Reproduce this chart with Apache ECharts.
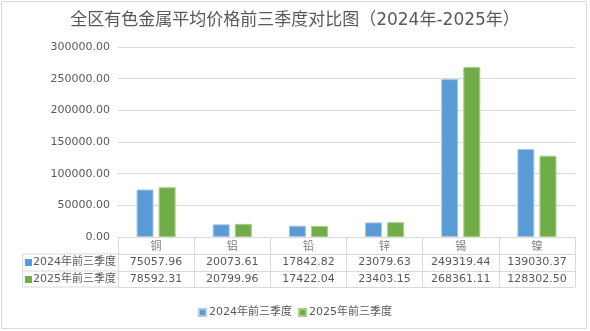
<!DOCTYPE html>
<html><head><meta charset="utf-8">
<script src="https://cdn.jsdelivr.net/npm/echarts@6/dist/echarts.min.js"></script>
<style>html,body{margin:0;padding:0;background:#fff}#c{width:590px;height:331px}</style>
</head><body><div id="c"></div>
<script>
var titleText = '全区有色金属平均价格前三季度对比图（2024年-2025年）';
var categories = ['铜', '铝', '铅', '锌', '锡', '镍'];
var seriesNames = ['2024年前三季度', '2025年前三季度'];
var values2024 = [75057.96, 20073.61, 17842.82, 23079.63, 249319.44, 139030.37];
var values2025 = [78592.31, 20799.96, 17422.04, 23403.15, 268361.11, 128302.50];
var yTicks = [0, 50000, 100000, 150000, 200000, 250000, 300000];
var colors = ['#5B9BD5', '#70AD47'];

var FONT = '"DejaVu Sans", "Noto Sans CJK SC", sans-serif';
var gridLeft = 118, gridRight = 15, gridTop = 47, gridBottom = 94;
var axisY = 331 - gridBottom; // 237
var lineColor = '#d9d9d9';
var txt = '#595959';

var chart = echarts.init(document.getElementById('c'), null, {renderer: 'canvas'});

function fmt(v){ return Number(v).toFixed(2); }

var option = {
  animation: false,
  textStyle: {fontFamily: FONT},
  title: {
    text: titleText, left: 'center', top: 7,
    textStyle: {fontFamily: FONT, fontSize: 17, fontWeight: 'normal', color: txt}
  },
  legend: {
    data: seriesNames, bottom: 8, left: 'center',
    itemWidth: 7, itemHeight: 7, itemGap: 6, icon: 'rect',
    textStyle: {fontFamily: FONT, fontSize: 11, color: txt, padding: [0,0,0,-2]}
  },
  grid: {left: gridLeft, right: gridRight, top: gridTop, bottom: gridBottom, containLabel: false},
  xAxis: [
    {
      type: 'category', data: categories, boundaryGap: true,
      axisLine: {show: true, lineStyle: {color: lineColor}},
      axisTick: {show: true, length: 50, inside: false, interval: 0, lineStyle: {color: lineColor}},
      axisLabel: {margin: 5, fontSize: 11, color: '#7f7f7f', fontFamily: FONT, interval: 0}
    },
    {
      type: 'category', data: values2024.map(fmt), position: 'bottom', offset: 17,
      axisLine: {show: true, lineStyle: {color: lineColor}},
      axisTick: {show: false},
      axisLabel: {margin: 3, fontSize: 11, color: txt, fontFamily: FONT, interval: 0, hideOverlap: false}
    },
    {
      type: 'category', data: values2025.map(fmt), position: 'bottom', offset: 34,
      axisLine: {show: true, lineStyle: {color: lineColor}},
      axisTick: {show: false},
      axisLabel: {margin: 3, fontSize: 11, color: txt, fontFamily: FONT, interval: 0, hideOverlap: false}
    },
    {
      type: 'category', data: categories, position: 'bottom', offset: 50,
      axisLine: {show: true, lineStyle: {color: lineColor}},
      axisTick: {show: false},
      axisLabel: {show: false}
    }
  ],
  yAxis: {
    type: 'value', min: yTicks[0], max: yTicks[yTicks.length-1], interval: yTicks[1]-yTicks[0],
    axisLine: {show: false}, axisTick: {show: false},
    axisLabel: {formatter: function(v){return fmt(v);}, fontSize: 11, color: txt, margin: 8, fontFamily: FONT},
    splitLine: {lineStyle: {color: lineColor}}
  },
  series: [
    {name: seriesNames[0], type: 'bar', data: values2024, barWidth: 17, barGap: '30%',
     itemStyle: {color: colors[0], borderColor: '#a9c9ea', borderWidth: 1}},
    {name: seriesNames[1], type: 'bar', data: values2025, barWidth: 17, barGap: '30%',
     itemStyle: {color: colors[1], borderColor: '#a6cf8f', borderWidth: 1}}
  ],
  graphic: [
    {type: 'rect', shape: {x: 1.5, y: 1.5, width: 585, height: 327}, style: {fill: null, stroke: lineColor, lineWidth: 1}, silent: true},
    {type: 'line', shape: {x1: 22, y1: axisY+17, x2: gridLeft, y2: axisY+17}, style: {stroke: lineColor, lineWidth: 1}},
    {type: 'line', shape: {x1: 22, y1: axisY+34, x2: gridLeft, y2: axisY+34}, style: {stroke: lineColor, lineWidth: 1}},
    {type: 'line', shape: {x1: 22, y1: axisY+50, x2: gridLeft, y2: axisY+50}, style: {stroke: lineColor, lineWidth: 1}},
    {type: 'line', shape: {x1: 22.5, y1: axisY+17, x2: 22.5, y2: axisY+50}, style: {stroke: lineColor, lineWidth: 1}},
    {type: 'rect', shape: {x: 25, y: axisY+22, width: 7, height: 7}, style: {fill: colors[0]}},
    {type: 'rect', shape: {x: 25, y: axisY+39, width: 7, height: 7}, style: {fill: colors[1]}},
    {type: 'text', x: 33, y: axisY+25.5, style: {text: seriesNames[0], font: '11px ' + FONT, fill: txt, verticalAlign: 'middle'}},
    {type: 'text', x: 33, y: axisY+42.5, style: {text: seriesNames[1], font: '11px ' + FONT, fill: txt, verticalAlign: 'middle'}}
  ]
};
chart.setOption(option);
</script></body></html>
